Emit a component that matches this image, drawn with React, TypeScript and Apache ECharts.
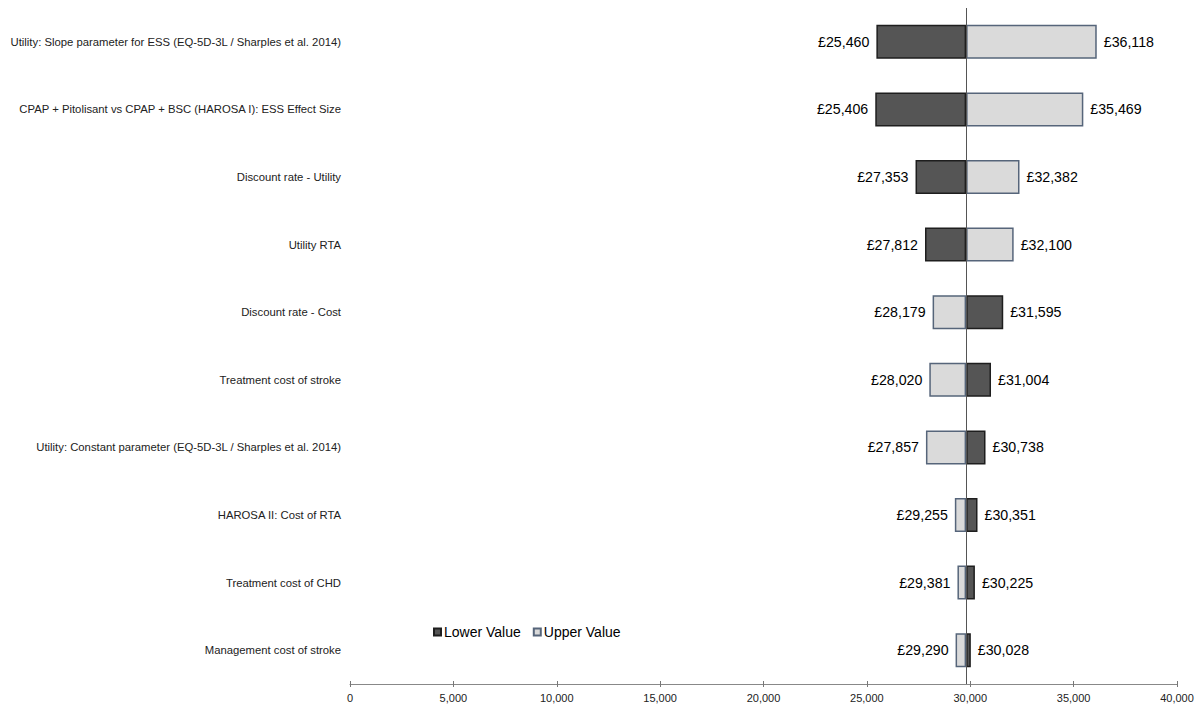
import React, { useEffect, useRef } from "react";
import * as echarts from "echarts";

const categories = [
  "Utility: Slope parameter for ESS (EQ-5D-3L / Sharples et al. 2014)",
  "CPAP + Pitolisant vs CPAP + BSC (HAROSA I): ESS Effect Size",
  "Discount rate - Utility",
  "Utility RTA",
  "Discount rate - Cost",
  "Treatment cost of stroke",
  "Utility: Constant parameter (EQ-5D-3L / Sharples et al. 2014)",
  "HAROSA II: Cost of RTA",
  "Treatment cost of CHD",
  "Management cost of stroke",
];
const lowerValues = [25460, 25406, 27353, 27812, 31595, 31004, 30738, 30351, 30225, 30028];
const upperValues = [36118, 35469, 32382, 32100, 28179, 28020, 27857, 29255, 29381, 29290];
const baseValue = 29800;
const xTicks = { min: 0, max: 40000, interval: 5000 };

const FONT = "'Liberation Sans', Arial, sans-serif";

const fmt = (v: number) => "£" + v.toLocaleString("en-GB");

function buildSeries(name: string, values: number[], fill: string, border: string, stack: string) {
  const offsets = values.map((v) => Math.min(v, baseValue));
  const lengths = values.map((v) => ({
    value: Math.abs(v - baseValue),
    label: { position: v < baseValue ? "left" : "right" },
  }));
  return [
    {
      type: "bar",
      stack,
      data: offsets,
      itemStyle: { color: "rgba(0,0,0,0)" },
      silent: true,
      emphasis: { disabled: true },
      barWidth: 34,
    },
    {
      name,
      type: "bar",
      stack,
      data: lengths,
      barWidth: 34,
      barGap: "-100%",
      itemStyle: { color: fill, borderColor: border, borderWidth: 1.5 },
      emphasis: { disabled: true },
      label: {
        show: true,
        distance: 7,
        color: "#000",
        fontSize: 14.2,
        fontFamily: FONT,
        formatter: (p: any) => fmt(values[p.dataIndex]),
      },
    },
  ];
}

export default function App() {
  const ref = useRef<HTMLDivElement>(null);
  useEffect(() => {
    if (!ref.current) return;
    const chart = echarts.init(ref.current, undefined, { renderer: "svg" });
    const lower = buildSeries("Lower Value", lowerValues, "#555555", "#1e1e1e", "lo");
    const upper = buildSeries("Upper Value", upperValues, "#dadada", "#56657a", "up");
    (lower[1] as any).markLine = {
      silent: true,
      symbol: "none",
      label: { show: false },
      lineStyle: { color: "#555", width: 1, type: "solid" },
      data: [{ xAxis: baseValue }],
    };
    chart.setOption({
      animation: false,
      grid: { left: 350, right: 26, top: 8, bottom: 22, containLabel: false },
      legend: {
        data: ["Lower Value", "Upper Value"],
        left: 428,
        top: 620,
        icon: "rect",
        itemWidth: 7,
        itemHeight: 7,
        itemGap: 12,
        textStyle: { fontSize: 14, fontFamily: FONT, color: "#000", padding: [0, 0, 0, -2] },
      },
      xAxis: [
        {
          type: "value",
          ...xTicks,
          axisLine: { show: true, lineStyle: { color: "#888", width: 1 } },
          axisTick: { show: true, length: 3, lineStyle: { color: "#777" } },
          axisLabel: { fontSize: 11, fontFamily: FONT, color: "#222", margin: 8 },
          splitLine: { show: false },
        },
        {
          type: "value",
          ...xTicks,
          position: "bottom",
          axisLine: { show: false },
          axisTick: { show: true, inside: true, length: 3, lineStyle: { color: "#777" } },
          axisLabel: { show: false },
          splitLine: { show: false },
        },
      ],
      yAxis: {
        type: "category",
        data: categories,
        inverse: true,
        axisLine: { show: false },
        axisTick: { show: false },
        axisLabel: { fontSize: 11.3, fontFamily: FONT, color: "#222", margin: 9 },
        splitLine: { show: false },
      },
      series: [...lower, ...upper],
    });
    return () => chart.dispose();
  }, []);
  return (
    <div
      ref={ref}
      style={{ position: "fixed", left: 0, top: 0, width: 1203, height: 706, background: "#fff" }}
    />
  );
}
